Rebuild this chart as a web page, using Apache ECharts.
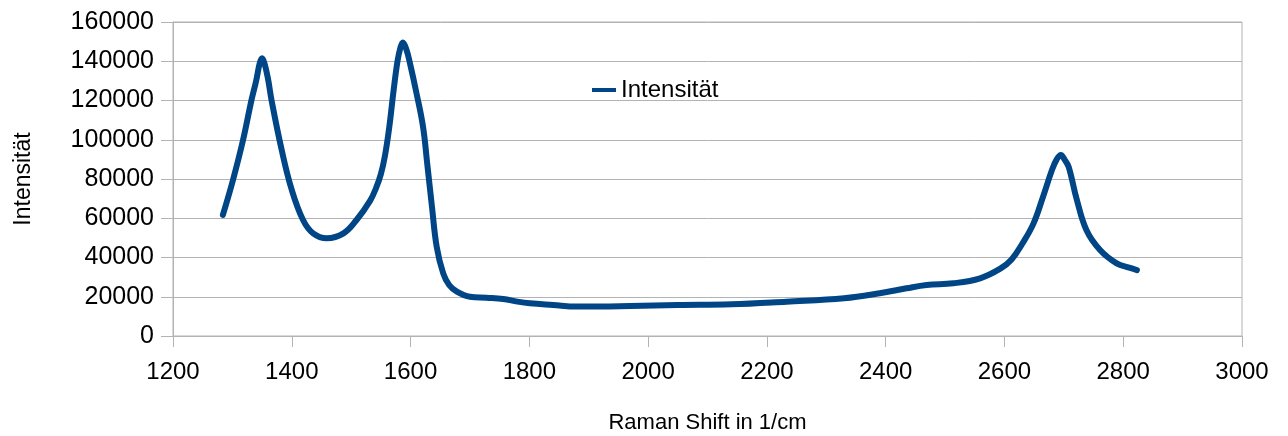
<!DOCTYPE html>
<html>
<head>
<meta charset="utf-8">
<title>Raman Spektrum</title>
<script src="https://cdn.jsdelivr.net/npm/echarts@6/dist/echarts.min.js"></script>
<style>
  html, body {
    margin: 0;
    padding: 0;
    background: #fff;
  }
  #chart {
    width: 1288px;
    height: 436px;
  }
</style>
</head>
<body>
<div id="chart"></div>
<script>
// Raman Shift in 1/cm
var ramanShift = [
  1284, 1301, 1318, 1332, 1340, 1346, 1350, 1354, 1360, 1366,
  1383, 1400, 1419, 1436, 1459, 1487, 1509, 1532, 1542, 1550,
  1557, 1564, 1571, 1578, 1583, 1587, 1593, 1599, 1610, 1621,
  1628, 1636, 1644, 1655, 1665, 1678, 1700, 1728, 1756, 1780,
  1801, 1840, 1880, 1920, 1970, 2050, 2140, 2233, 2330, 2390,
  2435, 2469, 2514, 2559, 2593, 2612, 2630, 2649, 2665, 2680,
  2688, 2695, 2701, 2708, 2722, 2738, 2761, 2789, 2810, 2823
]
// Intensität
var intensity = [
  61700, 79500, 99900, 120000, 130000, 139000, 141500, 139000, 131000, 120000,
  94800, 74400, 59100, 52300, 49800, 52300, 59100, 69000, 75500, 82500,
  92000, 106000, 124000, 140000, 147000, 149500, 146000, 139000, 123700, 106600,
  88000, 66000, 45500, 31900, 26000, 22600, 20000, 19500, 18850, 17500,
  16650, 15800, 15000, 15000, 15300, 15800, 16150, 17500, 19200, 21750,
  24300, 26000, 26850, 29400, 34300, 39000, 47000, 57400, 71000, 84600,
  90000, 92200, 90000, 86300, 69300, 54000, 43800, 37000, 34800, 33600
]

var seriesName = 'Intensität'
var xTitle = 'Raman Shift in 1/cm'
var yTitle = 'Intensität'

var gridColor = '#b3b3b3'
var lineColor = '#004586'
var font = '"Liberation Sans", Arial, sans-serif'

var points = ramanShift.map(function (x, i) {
  return [x, intensity[i]]
})

// plain numbers, no thousands separator
function plain (v) {
  return String(v)
}

var myChart = echarts.init(document.getElementById('chart'), null, { renderer: 'canvas' })
var option = {
  animation: false,
  backgroundColor: '#fff',
  textStyle: {
    fontFamily: font
  },
  grid: {
    left: 173,
    right: 46,
    top: 22,
    bottom: 100,
    outerBoundsMode: 'none',
    containLabel: false,
    show: true,
    borderColor: gridColor,
    borderWidth: 1
  },
  legend: {
    left: 587,
    top: 73,
    icon: 'rect',
    itemWidth: 24,
    itemHeight: 4,
    textStyle: {
      fontSize: 24,
      color: '#000',
      fontFamily: font
    },
    data: [seriesName]
  },
  xAxis: {
    type: 'value',
    min: 1200,
    max: 3000,
    interval: 200,
    name: xTitle,
    nameLocation: 'middle',
    nameGap: 76,
    nameTextStyle: {
      fontSize: 22,
      color: '#000',
      fontFamily: font
    },
    axisLine: {
      show: true,
      lineStyle: { color: gridColor, width: 1 }
    },
    axisTick: {
      show: true,
      length: 11,
      lineStyle: { color: gridColor }
    },
    axisLabel: {
      fontSize: 24,
      color: '#000',
      margin: 24,
      fontFamily: font,
      formatter: plain
    },
    splitLine: { show: false }
  },
  yAxis: {
    type: 'value',
    min: 0,
    max: 160000,
    interval: 20000,
    name: yTitle,
    nameLocation: 'middle',
    nameRotate: 90,
    nameGap: 138,
    nameTextStyle: {
      fontSize: 23,
      color: '#000',
      fontFamily: font
    },
    axisLine: {
      show: true,
      lineStyle: { color: gridColor, width: 1 }
    },
    axisTick: {
      show: true,
      length: 12,
      lineStyle: { color: gridColor }
    },
    axisLabel: {
      fontSize: 25,
      color: '#000',
      margin: 19,
      fontFamily: font,
      formatter: plain
    },
    splitLine: {
      show: true,
      lineStyle: { color: gridColor, width: 1 }
    }
  },
  series: [
    {
      name: seriesName,
      type: 'line',
      data: points,
      showSymbol: false,
      smooth: 0.4,
      color: lineColor,
      lineStyle: {
        color: lineColor,
        width: 6,
        cap: 'round',
        join: 'round'
      }
    }
  ]
}
myChart.setOption(option)
</script>
</body>
</html>
